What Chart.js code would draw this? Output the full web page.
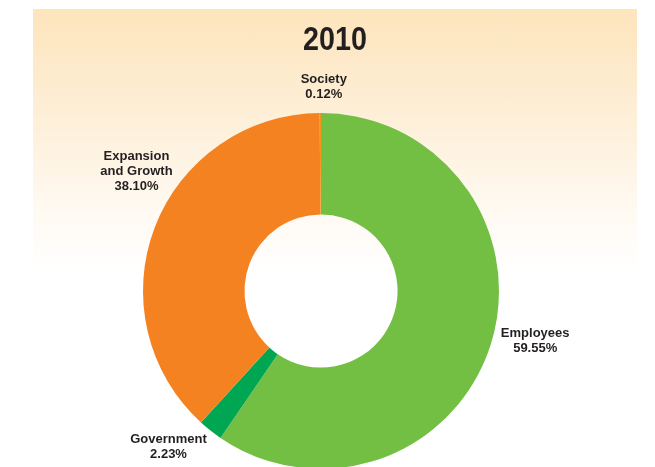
<!DOCTYPE html>
<html>
<head>
<meta charset="utf-8">
<script src="https://cdn.jsdelivr.net/npm/chart.js@4.4.1/dist/chart.umd.min.js"></script>
<style>
    html, body { margin: 0; padding: 0; background: #fff; overflow: hidden; }
    #wrap { position: relative; width: 655px; height: 467px; overflow: hidden; }
    #fundo {
        position: absolute; left: 33px; top: 9px; width: 604px; height: 260px;
        background: linear-gradient(to bottom, #fde5bc 0%, #fdecd0 30%, #fef4e4 58%, #fffaf3 80%, rgba(255,255,255,0) 100%);
    }
    #box { position: absolute; left: 0; top: 0; width: 670px; height: 480px; }
</style>
</head>
<body>
<div id="wrap">
    <div id="fundo"></div>
    <div id="box"><canvas id="grafico-2010"></canvas></div>
</div>
<script>
const titulo = '2010';
const categorias = ['Employees', 'Government', 'Expansion\nand Growth', 'Society'];
const valores = [59.55, 2.23, 38.10, 0.12];
const cores = ['#72bf44', '#00a651', '#f58220', '#f7941d'];

// ajuste fino dos rótulos: desvio de ângulo (graus) e distância além do anel
const desvioRotulo = [-4, 6, 12, 1];
const folgaRotulo = [42, 40, 42, 26];

const rotulosPlugin = {
    id: 'rotulos',
    afterDraw(chart) {
        const ctx = chart.ctx;
        const arcos = chart.getDatasetMeta(0).data;
        ctx.save();
        ctx.fillStyle = '#231f20';
        ctx.textAlign = 'center';
        ctx.textBaseline = 'middle';

        // título (levemente condensado)
        ctx.save();
        ctx.translate(335, 41);
        ctx.scale(0.87, 1);
        ctx.font = 'bold 33px "Liberation Sans", Arial, sans-serif';
        ctx.fillText(titulo, 0, 0);
        ctx.restore();

        ctx.font = 'bold 13px "Liberation Sans", Arial, sans-serif';
        arcos.forEach((arco, i) => {
            const { x, y, startAngle, endAngle, outerRadius } = arco.getProps(['x', 'y', 'startAngle', 'endAngle', 'outerRadius'], true);
            const meio = (startAngle + endAngle) / 2 + desvioRotulo[i] * Math.PI / 180;
            const r = outerRadius + folgaRotulo[i];
            const linhas = categorias[i].split('\n').concat(valores[i].toFixed(2) + '%');
            const lx = x + Math.cos(meio) * r;
            const ly = y + Math.sin(meio) * r;
            const alt = 15;
            linhas.forEach((txt, k) => {
                ctx.fillText(txt, lx, ly + (k - (linhas.length - 1) / 2) * alt);
            });
        });
        ctx.restore();
    }
};

const ctx = document.getElementById('grafico-2010').getContext('2d');
new Chart(ctx, {
    type: 'doughnut',
    data: {
        labels: categorias,
        datasets: [{ data: valores, backgroundColor: cores, borderWidth: 0 }]
    },
    options: {
        responsive: true, maintainAspectRatio: false, animation: false,
        cutout: '43%',
        layout: { padding: { top: 113, left: 0, right: 28, bottom: 11 } },
        plugins: { legend: { display: false }, tooltip: { enabled: false }, title: { display: false } }
    },
    plugins: [rotulosPlugin]
});
</script>
</body>
</html>
